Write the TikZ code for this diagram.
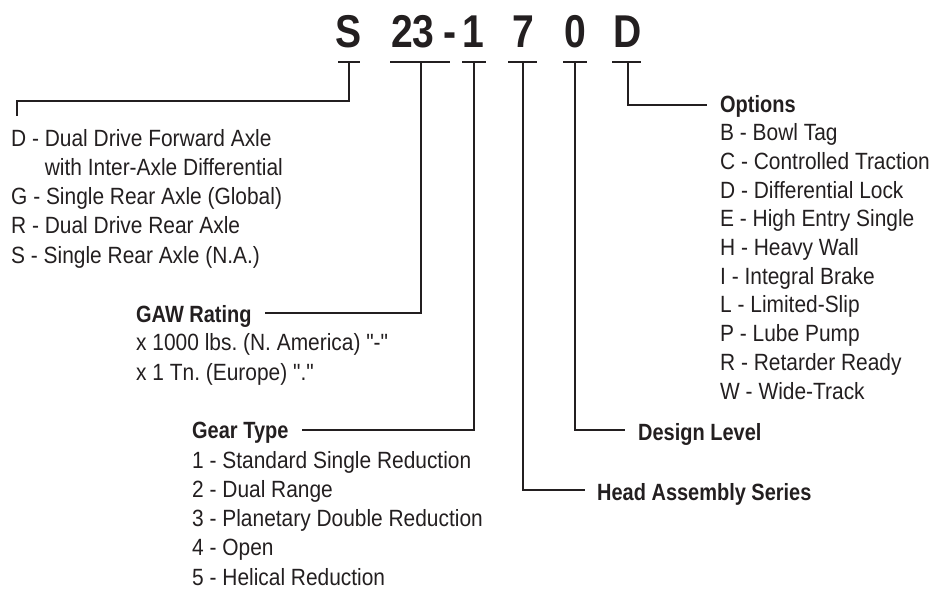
\documentclass[tikz,border=0pt]{standalone}
\usepackage{fontspec}
\setmainfont{Liberation Sans}[Ligatures=TeXOff, FakeStretch=0.89, BoldFeatures={FakeStretch=0.85}]
\usetikzlibrary{calc}
\definecolor{ink}{HTML}{231F20}
\frenchspacing

\begin{document}
\begin{tikzpicture}[
  x=1pt,
  y=-1pt,
  code/.style={font=\fontsize{46}{46}\selectfont\bfseries, text=ink, inner sep=0pt, anchor=base},
  head/.style={font=\fontsize{23.5}{29}\selectfont\bfseries, text=ink, inner sep=0pt, anchor=base west},
  list/.style={font=\fontsize{23.5}{29.2}\selectfont, text=ink, inner sep=0pt, anchor=base west, align=left},
  bar/.style={draw=ink, line width=2.2pt},
  conn/.style={draw=ink, line width=2.2pt}
]
\useasboundingbox (0,0) rectangle (935,590);

% model code
\node[code] (cs) at (349,47) {S};
\node[code] (c23) at (413,47) {23};
\node[code] (cdash) at (450,47) {-};
\node[code] (c1) at (473,47) {1};
\node[code] (c7) at (523,47) {7};
\node[code] (c0) at (575,47) {0};
\node[code] (cd) at (628,47) {D};

\coordinate (ts) at (349,62);
\coordinate (t23) at (421,62);
\coordinate (t1) at (474,62);
\coordinate (t7) at (523,62);
\coordinate (t0) at (575,62);
\coordinate (td) at (628,62);

\foreach \t/\l/\r in {ts/11/11, t23/31/29, t1/12/12, t7/15/14, t0/12/12, td/16/13}
  \draw[bar] ([xshift=-\l pt]\t) -- ([xshift=\r pt]\t);

% descriptions (lists sit on the baseline of their last line)
\node[list] (axle) at (11,263) {D - Dual Drive Forward Axle\\
  \phantom{D - }with Inter-Axle Differential\\
  G - Single Rear Axle (Global)\\
  R - Dual Drive Rear Axle\\
  S - Single Rear Axle (N.A.)};

\node[head] (gawhead) at (136,322) {GAW Rating};
\node[list, font=\fontsize{23.5}{30}\selectfont] (gawlist) at (136,380) {x 1000 lbs. (N. America) "-"\\
  x 1 Tn. (Europe) "."};

\node[head] (gearhead) at (192,438) {Gear Type};
\node[list] (gearlist) at (192,585) {1 - Standard Single Reduction\\
  2 - Dual Range\\
  3 - Planetary Double Reduction\\
  4 - Open\\
  5 - Helical Reduction};

\node[head] (headser) at (597,500) {Head Assembly Series};
\node[head] (design) at (638,440) {Design Level};

\node[head] (options) at (720,112) {Options};
\node[list, font=\fontsize{23.5}{28.7}\selectfont] (optlist) at (720,399) {B - Bowl Tag\\
  C - Controlled Traction\\
  D - Differential Lock\\
  E - High Entry Single\\
  H - Heavy Wall\\
  I - Integral Brake\\
  L - Limited-Slip\\
  P - Lube Pump\\
  R - Retarder Ready\\
  W - Wide-Track};

% leaders
\draw[conn] (ts) -- ++(0,39) -| ($(axle.north west)+(6,-13)$);
\draw[conn] (t23) |- ($(gawhead.base east)+(13,-9)$);
\draw[conn] (t1) |- ($(gearhead.base east)+(13,-8)$);
\draw[conn] (t7) |- ($(headser.base west)+(-12,-10)$);
\draw[conn] (t0) |- ($(design.base west)+(-13,-10)$);
\draw[conn] (td) |- ($(options.base west)+(-13,-7)$);
\end{tikzpicture}
\end{document}
